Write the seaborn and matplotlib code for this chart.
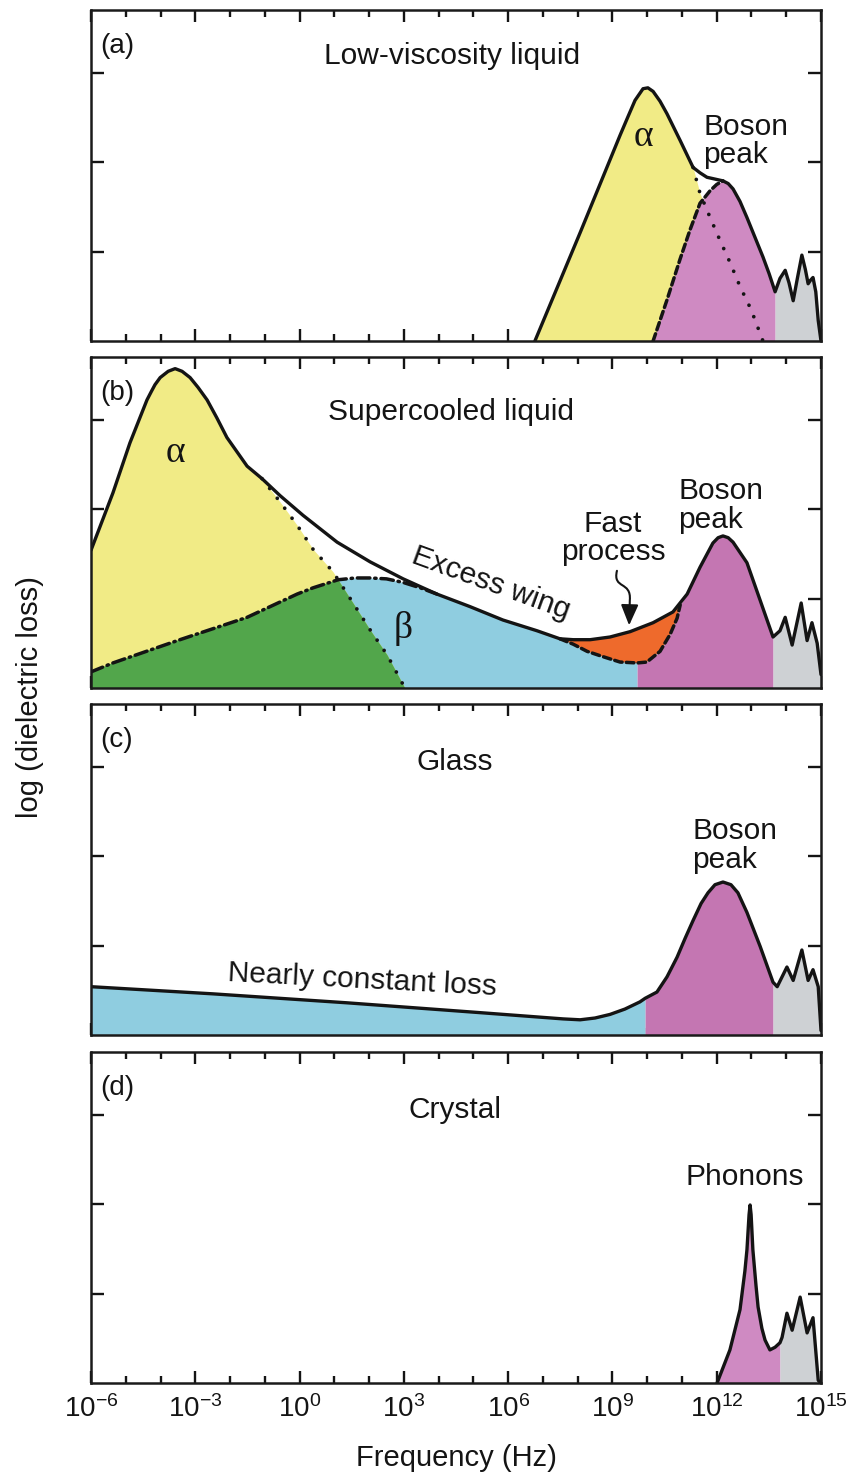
import numpy as np
import matplotlib
matplotlib.use("Agg")
import matplotlib.pyplot as plt
import seaborn as sns
from matplotlib.path import Path
from matplotlib.patches import FancyArrowPatch, ArrowStyle

# ---------------------------------------------------------------
# Data: x = log10(frequency / Hz), y = log(dielectric loss) in tick units
# ---------------------------------------------------------------
freq_ticks = [-6, -3, 0, 3, 6, 9, 12, 15]
freq_tick_labels = [r"$\mathregular{10^{%d}}$" % v for v in freq_ticks]

# (a) Low-viscosity liquid
a_total_x = [6.77, 8.07, 8.64, 9.22, 9.45, 9.65, 9.88, 10.02, 10.17, 10.37, 10.57, 10.95,
             11.32, 11.52, 11.72, 11.95, 12.18, 12.33, 12.47, 12.67, 12.87, 13.10, 13.33,
             13.51, 13.68, 13.82, 13.97, 14.08, 14.20, 14.32, 14.45, 14.55, 14.63, 14.70,
             14.77, 14.85, 14.92, 15.00]
a_total_y = [0.00, 1.21, 1.75, 2.30, 2.51, 2.69, 2.82, 2.83, 2.79, 2.68, 2.54, 2.24,
             1.94, 1.88, 1.83, 1.81, 1.79, 1.76, 1.70, 1.56, 1.38, 1.16, 0.94,
             0.75, 0.55, 0.70, 0.79, 0.65, 0.45, 0.70, 0.96, 0.80, 0.64, 0.68,
             0.71, 0.55, 0.23, 0.00]
a_alpha_tail_x = [11.32, 11.52, 11.81, 12.10, 12.38, 12.67, 12.99, 13.33]
a_alpha_tail_y = [1.94, 1.65, 1.38, 1.12, 0.88, 0.61, 0.35, 0.00]
a_boson_rise_x = [10.17, 10.57, 10.95, 11.23, 11.52, 11.81, 12.00, 12.18]
a_boson_rise_y = [0.00, 0.46, 0.92, 1.24, 1.54, 1.68, 1.75, 1.79]
a_boson_end = 13.68

# (b) Supercooled liquid
b_total_x = [-6.00, -5.37, -4.88, -4.39, -4.27, -4.16, -4.01, -3.78, -3.58, -3.38, -3.15,
             -2.92, -2.66, -2.38, -2.09, -1.80, -1.51, -1.08, -0.56, 0.10, 1.08, 2.03,
             2.98, 3.95, 4.90, 5.85, 6.83, 7.49, 7.87, 8.36, 8.93, 9.51, 10.17, 10.74,
             11.15, 11.52, 11.89, 12.04, 12.18, 12.33, 12.47, 12.87, 13.25, 13.62, 13.82,
             13.97, 14.17, 14.43, 14.60, 14.74, 14.89, 15.00]
b_total_y = [1.54, 2.18, 2.74, 3.22, 3.31, 3.39, 3.47, 3.54, 3.57, 3.54, 3.47,
             3.36, 3.22, 3.02, 2.80, 2.64, 2.48, 2.34, 2.15, 1.93, 1.63, 1.41,
             1.22, 1.05, 0.91, 0.76, 0.64, 0.55, 0.54, 0.54, 0.57, 0.63, 0.73, 0.85,
             1.05, 1.35, 1.62, 1.68, 1.70, 1.68, 1.63, 1.40, 0.98, 0.57, 0.64,
             0.79, 0.48, 0.95, 0.53, 0.73, 0.50, 0.15]
b_alpha_tail_x = [-1.08, -0.56, -0.07, 0.39, 0.96, 1.54, 2.03, 2.52, 3.03]
b_alpha_tail_y = [2.34, 2.08, 1.82, 1.55, 1.30, 0.95, 0.65, 0.37, 0.00]
b_beta_x = [-6.00, -5.37, -3.44, -1.51, -0.07, 0.39, 1.11, 1.60, 2.03, 2.50, 2.98, 3.47, 3.95]
b_beta_y = [0.18, 0.28, 0.54, 0.79, 1.05, 1.12, 1.21, 1.23, 1.23, 1.22, 1.18, 1.12, 1.05]
b_fast_x = [7.49, 7.87, 8.27, 8.73, 9.22, 9.71, 9.99, 10.37, 10.66, 10.86, 10.95]
b_fast_y = [0.55, 0.49, 0.41, 0.35, 0.29, 0.28, 0.29, 0.41, 0.60, 0.78, 0.93]
b_boson_start = 9.71
b_boson_end = 13.62

# (c) Glass
c_total_x = [-6.00, -2.49, 1.36, 5.19, 7.58, 8.07, 8.50, 8.93, 9.36, 9.79, 9.94, 10.28,
             10.57, 10.86, 11.09, 11.32, 11.55, 11.75, 11.95, 12.18, 12.41, 12.61, 12.87,
             13.25, 13.62, 13.74, 14.02, 14.20, 14.45, 14.63, 14.77, 14.92, 15.00]
c_total_y = [0.54, 0.46, 0.36, 0.25, 0.18, 0.17, 0.19, 0.23, 0.29, 0.37, 0.41, 0.48,
             0.65, 0.87, 1.08, 1.28, 1.47, 1.59, 1.68, 1.71, 1.68, 1.59, 1.37,
             0.99, 0.59, 0.54, 0.76, 0.61, 0.95, 0.61, 0.73, 0.54, 0.05]
c_boson_start = 9.94
c_boson_end = 13.62

# (d) Crystal
d_total_x = [12.01, 12.38, 12.67, 12.81, 12.87, 12.93, 12.96, 12.99, 13.04, 13.13, 13.19,
             13.30, 13.39, 13.53, 13.68, 13.82, 13.88, 14.02, 14.17, 14.40, 14.60, 14.77,
             14.92, 15.00]
d_total_y = [0.00, 0.37, 0.82, 1.25, 1.49, 1.88, 1.99, 1.88, 1.49, 1.09, 0.85,
             0.61, 0.48, 0.37, 0.40, 0.45, 0.51, 0.78, 0.59, 0.96, 0.56, 0.73,
             0.03, 0.00]
d_phonon_end = 13.82

# ---------------------------------------------------------------
# Style
# ---------------------------------------------------------------
sns.set_theme(style="ticks")
plt.rcParams["font.family"] = ["Liberation Sans", "DejaVu Sans"]
plt.rcParams["mathtext.fontset"] = "custom"
plt.rcParams["mathtext.rm"] = "Liberation Sans"
plt.rcParams["mathtext.default"] = "regular"
plt.rcParams["axes.linewidth"] = 1.8
plt.rcParams["axes.edgecolor"] = "#1a1a1a"

YELLOW = "#F1EB86"
PINK_A = "#CF8AC2"
PINK = "#C476B2"
GRAY = "#CED1D4"
GREEN = "#52A64B"
BLUE = "#8FCDE0"
ORANGE = "#EE6A2C"
INK = "#141414"

LW = 2.4
DOTTED = (0, (0.01, 3.3))
DASHED = (0, (2.2, 1.2))
DASHDOT = (0, (3.6, 1.4, 0.4, 1.4))

TXT = 21.5
GREEK = dict(fontfamily="Liberation Serif", fontsize=27, color=INK)

fig = plt.figure(figsize=(8.46, 14.77), dpi=100)
W, H = 846.0, 1477.0
left, width = 91 / W, 730 / W
panel_tops = [10, 357, 704, 1052]
panel_h = 331
axes = [fig.add_axes([left, 1 - (t + panel_h) / H, width, panel_h / H]) for t in panel_tops]


def arr(v):
    return np.asarray(v, dtype=float)


def seg(x, y, lo, hi):
    x, y = arr(x), arr(y)
    m = (x >= lo - 1e-9) & (x <= hi + 1e-9)
    return x[m], y[m]


def curve(ax, x, y, ls="-", lw=LW, z=4):
    sns.lineplot(x=arr(x), y=arr(y), ax=ax, color=INK, lw=lw, linestyle=ls,
                 sort=False, estimator=None, zorder=z,
                 dash_capstyle="round", solid_capstyle="round", solid_joinstyle="round")


def style_axis(ax, bottom_labels):
    ax.set_xlim(-6, 15)
    ax.set_ylim(0, 3.7)
    ax.set_xticks(freq_ticks)
    ax.set_xticks(np.arange(-6, 16), minor=True)
    ax.set_yticks([1, 2, 3])
    ax.yaxis.set_minor_locator(plt.NullLocator())
    ax.tick_params(axis="both", which="both", direction="in", top=True, right=True,
                   width=1.7, color=INK)
    ax.tick_params(axis="x", which="major", length=8.5)
    ax.tick_params(axis="x", which="minor", length=5)
    ax.tick_params(axis="y", which="major", length=9.5, labelleft=False)
    if bottom_labels:
        ax.set_xticklabels(freq_tick_labels)
        ax.tick_params(axis="x", which="major", labelsize=20, pad=9, labelcolor=INK)
    else:
        ax.tick_params(axis="x", labelbottom=False)
    ax.set_xlabel("")
    ax.set_ylabel("")
    for s in ax.spines.values():
        s.set_visible(True)
        s.set_zorder(10)


def two_line(ax, x, y_last_baseline, s, ha="left"):
    # y is the baseline of the last line
    ax.text(x, y_last_baseline, s, ha=ha, va="baseline", multialignment=ha,
            fontsize=TXT, color=INK, linespacing=1.02)


# ---------------------------------------------------------------
# (a) Low-viscosity liquid
# ---------------------------------------------------------------
ax = axes[0]
tx, ty = arr(a_total_x), arr(a_total_y)
lx, ly = seg(tx, ty, -6, a_alpha_tail_x[0] - 0.01)
ax.fill_between(np.r_[lx, a_alpha_tail_x], 0, np.r_[ly, a_alpha_tail_y], color=YELLOW, lw=0, zorder=1)
rx, ry = seg(tx, ty, a_boson_rise_x[-1] + 0.01, a_boson_end)
ax.fill_between(np.r_[a_boson_rise_x, rx], 0, np.r_[a_boson_rise_y, ry], color=PINK_A, lw=0, zorder=2)
gx, gy = seg(tx, ty, a_boson_end, 15)
ax.fill_between(gx, 0, gy, color=GRAY, lw=0, zorder=2)
curve(ax, a_alpha_tail_x, a_alpha_tail_y, ls=DOTTED, lw=2.7, z=3)
curve(ax, a_boson_rise_x, a_boson_rise_y, ls=DASHED, lw=2.5, z=3)
curve(ax, tx, ty)
ax.text(4.39, 3.19, "Low-viscosity liquid", ha="center", va="center", fontsize=TXT, color=INK)
ax.text(9.88, 2.28, "α", ha="center", va="center", **GREEK)
two_line(ax, 11.61, 1.99, "Boson\npeak")

# ---------------------------------------------------------------
# (b) Supercooled liquid
# ---------------------------------------------------------------
ax = axes[1]
tx, ty = arr(b_total_x), arr(b_total_y)
# lower envelope: beta relaxation, excess wing, fast process floor, boson peak
w1x, w1y = seg(tx, ty, b_beta_x[-1] + 0.01, b_fast_x[0] - 0.01)
w2x, w2y = seg(tx, ty, b_fast_x[-1] + 0.01, b_boson_end)
env_x = np.r_[b_beta_x, w1x, b_fast_x, w2x]
env_y = np.r_[b_beta_y, w1y, b_fast_y, w2y]
blue = ax.fill_between(env_x, 0, env_y, where=env_x <= b_boson_start + 1e-9,
                       color=BLUE, lw=0, zorder=1)
ax.fill_between(env_x, 0, env_y, where=env_x >= b_boson_start - 1e-9,
                color=PINK, lw=0, zorder=1)
ox, oy = seg(tx, ty, b_fast_x[0], b_fast_x[-1] - 0.01)
ax.fill(np.r_[ox, arr(b_fast_x)[::-1]], np.r_[oy, arr(b_fast_y)[::-1]],
        color=ORANGE, lw=0, zorder=1)
lx, ly = seg(tx, ty, -6, b_alpha_tail_x[0] - 0.01)
alpha_x = np.r_[lx, b_alpha_tail_x]
alpha_y = np.r_[ly, b_alpha_tail_y]
ax.fill_between(alpha_x, 0, alpha_y, color=YELLOW, lw=0, zorder=2)
green = ax.fill_between(alpha_x, 0, alpha_y, color=GREEN, lw=0, zorder=2.5)
green.set_clip_path(blue.get_paths()[0], ax.transData)
gx, gy = seg(tx, ty, b_boson_end, 15)
ax.fill_between(gx, 0, gy, color=GRAY, lw=0, zorder=2)
curve(ax, b_alpha_tail_x, b_alpha_tail_y, ls=DOTTED, lw=2.7, z=3)
curve(ax, b_beta_x, b_beta_y, ls=DASHDOT, lw=2.5, z=3)
curve(ax, b_fast_x, b_fast_y, ls=DASHED, lw=2.5, z=3)
curve(ax, tx, ty)
ax.text(4.36, 3.08, "Supercooled liquid", ha="center", va="center", fontsize=TXT, color=INK)
ax.text(-3.58, 2.63, "α", ha="center", va="center", **GREEK)
ax.text(2.98, 0.66, "β", ha="center", va="center", **GREEK)
ax.text(5.50, 1.17, "Excess wing", ha="center", va="center", rotation=-20,
        rotation_mode="anchor", fontsize=TXT, color=INK)
two_line(ax, 9.02, 1.43, "Fast\nprocess", ha="center")
two_line(ax, 10.89, 1.79, "Boson\npeak")
squiggle = Path([(9.13, 1.31), (9.00, 1.10), (9.55, 1.20), (9.50, 0.98), (9.48, 0.70)],
                [Path.MOVETO, Path.CURVE4, Path.CURVE4, Path.CURVE4, Path.LINETO])
arrow = FancyArrowPatch(path=squiggle, transform=ax.transData,
                        arrowstyle=ArrowStyle("-|>", head_length=0.9, head_width=0.38),
                        mutation_scale=14, lw=1.5, color=INK, zorder=6)
ax.add_patch(arrow)

# ---------------------------------------------------------------
# (c) Glass
# ---------------------------------------------------------------
ax = axes[2]
tx, ty = arr(c_total_x), arr(c_total_y)
ax.fill_between(tx, 0, ty, where=tx <= c_boson_start + 1e-9, color=BLUE, lw=0, zorder=1)
ax.fill_between(tx, 0, ty, where=(tx >= c_boson_start - 1e-9) & (tx <= c_boson_end + 1e-9),
                color=PINK, lw=0, zorder=1)
ax.fill_between(tx, 0, ty, where=tx >= c_boson_end - 1e-9, color=GRAY, lw=0, zorder=1)
curve(ax, tx, ty)
ax.text(4.47, 3.05, "Glass", ha="center", va="center", fontsize=TXT, color=INK)
ax.text(1.80, 0.61, "Nearly constant loss", ha="center", va="center", rotation=-3,
        rotation_mode="anchor", fontsize=TXT, color=INK)
two_line(ax, 11.29, 1.87, "Boson\npeak")

# ---------------------------------------------------------------
# (d) Crystal
# ---------------------------------------------------------------
ax = axes[3]
tx, ty = arr(d_total_x), arr(d_total_y)
ax.fill_between(tx, 0, ty, where=tx <= d_phonon_end + 1e-9, color=PINK_A, lw=0, zorder=1)
ax.fill_between(tx, 0, ty, where=tx >= d_phonon_end - 1e-9, color=GRAY, lw=0, zorder=1)
curve(ax, tx, ty)
ax.text(4.47, 3.05, "Crystal", ha="center", va="center", fontsize=TXT, color=INK)
ax.text(12.81, 2.21, "Phonons", ha="center", va="baseline", fontsize=TXT, color=INK)

# ---------------------------------------------------------------
# Axes, panel letters, labels
# ---------------------------------------------------------------
for i, (ax, letter) in enumerate(zip(axes, "abcd")):
    style_axis(ax, bottom_labels=(i == 3))
    ax.text(0.012, 0.89, f"({letter})", transform=ax.transAxes, ha="left", va="center",
            fontsize=20, color=INK, zorder=7)

fig.text(30 / W, 1 - 697 / H, "log (dielectric loss)", rotation=90, ha="center",
         va="center", fontsize=21, color=INK)
fig.text(456 / W, 1 - 1458 / H, "Frequency (Hz)", ha="center", va="center",
         fontsize=21, color=INK)

fig.savefig("out.png", dpi=100, facecolor="white")
